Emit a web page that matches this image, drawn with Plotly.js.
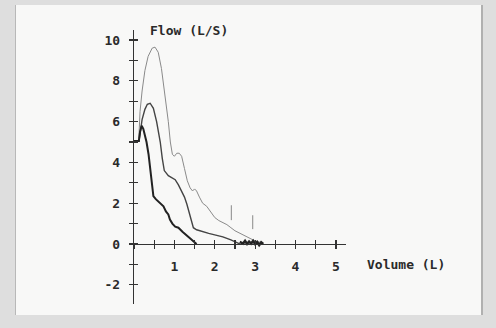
<!DOCTYPE html>
<html>
<head>
<meta charset="utf-8">
<script src="https://cdn.plot.ly/plotly-3.0.1.min.js"></script>
<style>
  html, body { margin: 0; padding: 0; background: #dedede; width: 496px; height: 328px; overflow: hidden; }
  #sheet { position: absolute; left: 15px; top: 5px; width: 468px; height: 310px; background: #f8f8f7;
           border-left: 1px solid #b8b8b8; border-right: 2px solid #b0b0b0; box-sizing: border-box; }
  #chart { position: absolute; left: 0; top: 0; width: 496px; height: 328px; }
</style>
</head>
<body>
<div id="sheet"></div>
<div id="chart"></div>
<script>
// Flow-volume curves (Volume in L, Flow in L/S)
const thinVolume = [0.12,0.15,0.2,0.27,0.35,0.45,0.52,0.6,0.68,0.76,0.85,0.9,0.95,1.0,1.06,1.12,1.18,1.25,1.32,1.39,1.45,1.5,1.55,1.62,1.7,1.8,1.9,2.0,2.1,2.2,2.3,2.4,2.5,2.6,2.7,2.8,2.9,3.0,3.1,3.2];
const thinFlow   = [5.2,6.5,7.5,8.5,9.2,9.6,9.65,9.4,8.6,7.4,6.0,5.0,4.4,4.3,4.45,4.45,4.3,3.7,3.1,2.75,2.6,2.7,2.6,2.3,2.0,1.85,1.6,1.3,1.15,1.05,0.95,0.8,0.65,0.55,0.45,0.35,0.25,0.15,0.1,0.05];

const midVolume = [0.12,0.15,0.2,0.27,0.33,0.4,0.48,0.56,0.65,0.7,0.75,0.85,0.95,1.02,1.1,1.18,1.25,1.31,1.36,1.39,1.43,1.47,1.55,1.7,1.85,2.0,2.2,2.4,2.55,2.63];
const midFlow   = [5.0,5.4,6.1,6.6,6.85,6.9,6.65,6.0,5.0,4.2,3.6,3.35,3.25,3.15,2.9,2.6,2.3,1.95,1.55,1.3,1.0,0.8,0.7,0.6,0.52,0.45,0.35,0.2,0.08,0.0];

const thickVolume = [0,0.12,0.15,0.19,0.23,0.27,0.31,0.36,0.4,0.44,0.48,0.54,0.6,0.66,0.73,0.79,0.85,0.89,0.95,1.02,1.1,1.2,1.31,1.42,1.51,1.55];
const thickFlow   = [5.05,5.05,5.5,5.8,5.65,5.35,5.0,4.4,3.7,3.0,2.35,2.2,2.1,2.0,1.85,1.6,1.45,1.2,1.0,0.85,0.8,0.6,0.4,0.2,0.06,0.0];

const tailVolume = [2.62,2.7,2.75,2.8,2.85,2.9,2.95,3.0,3.05,3.1,3.15,3.2];
const tailFlow   = [0.1,0.02,0.15,0.0,0.12,0.02,0.15,0.0,0.1,-0.05,0.08,0.0];

const markVolume = [2.41,2.41,null,2.94,2.94];
const markFlow   = [1.17,1.9,null,0.73,1.41];

const xTickVals = [1,2,3,4,5];
const xTickText = ['1','2','3','4','5'];
const yTickVals = [-2,0,2,4,6,8,10];
const yTickText = ['-2','0','2','4','6','8','10'];

const xRange = [0, 5.25];
const yRange = [-2.94, 10.49];
const xAxisPos = (0 - yRange[0]) / (yRange[1] - yRange[0]);

const font = {family: 'DejaVu Sans Mono, Liberation Mono, monospace', size: 13, color: '#2a2a2a', weight: 'bold'};
const axisColor = '#333';

const traces = [
  {x: thinVolume, y: thinFlow, mode: 'lines', line: {color: '#8a8a8a', width: 1}, hoverinfo: 'skip'},
  {x: midVolume, y: midFlow, mode: 'lines', line: {color: '#444', width: 1.4}, hoverinfo: 'skip'},
  {x: thickVolume, y: thickFlow, mode: 'lines', line: {color: '#222', width: 2}, hoverinfo: 'skip'},
  {x: tailVolume, y: tailFlow, mode: 'lines', line: {color: '#222', width: 2.5}, hoverinfo: 'skip'},
  {x: markVolume, y: markFlow, mode: 'lines', line: {color: '#888', width: 1}, connectgaps: false, hoverinfo: 'skip'},
  {x: [], y: [], xaxis: 'x2', yaxis: 'y2', mode: 'lines', hoverinfo: 'skip'}
];

const common = {showgrid: false, zeroline: false, linecolor: axisColor, linewidth: 1.2, tickcolor: axisColor, tickwidth: 1.2, fixedrange: true};

const layout = {
  width: 496, height: 328,
  margin: {l: 134, r: 150, t: 30, b: 24},
  paper_bgcolor: 'rgba(0,0,0,0)', plot_bgcolor: 'rgba(0,0,0,0)',
  showlegend: false,
  font: font,
  xaxis: Object.assign({}, common, {
    range: xRange, anchor: 'free', position: xAxisPos, showline: true,
    tickmode: 'array', tickvals: xTickVals, ticktext: xTickText,
    ticks: 'outside', ticklen: 4, ticklabelstandoff: 6,
    minor: {dtick: 0.5, tick0: 0, ticks: 'outside', ticklen: 4, tickcolor: axisColor, tickwidth: 1.2},
    tickfont: font
  }),
  xaxis2: Object.assign({}, common, {
    range: xRange, overlaying: 'x', anchor: 'free', position: xAxisPos, showline: false,
    tickmode: 'array', tickvals: xTickVals, ticks: 'inside', ticklen: 4, showticklabels: false,
    minor: {dtick: 0.5, tick0: 0, ticks: 'inside', ticklen: 4, tickcolor: axisColor, tickwidth: 1.2}
  }),
  yaxis: Object.assign({}, common, {
    range: yRange, showline: true,
    tickmode: 'array', tickvals: yTickVals, ticktext: yTickText,
    ticks: 'outside', ticklen: 4, ticklabelstandoff: 6,
    minor: {dtick: 1, tick0: 0, ticks: 'outside', ticklen: 4, tickcolor: axisColor, tickwidth: 1.2},
    tickfont: font
  }),
  yaxis2: Object.assign({}, common, {
    range: yRange, overlaying: 'y', anchor: 'x', side: 'left', showline: false,
    tickmode: 'array', tickvals: yTickVals, ticks: 'inside', ticklen: 4, showticklabels: false,
    minor: {dtick: 1, tick0: 0, ticks: 'inside', ticklen: 4, tickcolor: axisColor, tickwidth: 1.2}
  }),
  annotations: [
    {text: 'Flow (L/S)', xref: 'paper', yref: 'paper', x: (189 - 134) / 212, y: 1.0, xanchor: 'center', yanchor: 'middle', showarrow: false, font: font},
    {text: 'Volume (L)', xref: 'paper', yref: 'paper', x: (406 - 134) / 212, y: (304 - 264) / 274, xanchor: 'center', yanchor: 'middle', showarrow: false, font: font}
  ]
};

Plotly.newPlot('chart', traces, layout, {staticPlot: true, displayModeBar: false});
</script>
</body>
</html>
